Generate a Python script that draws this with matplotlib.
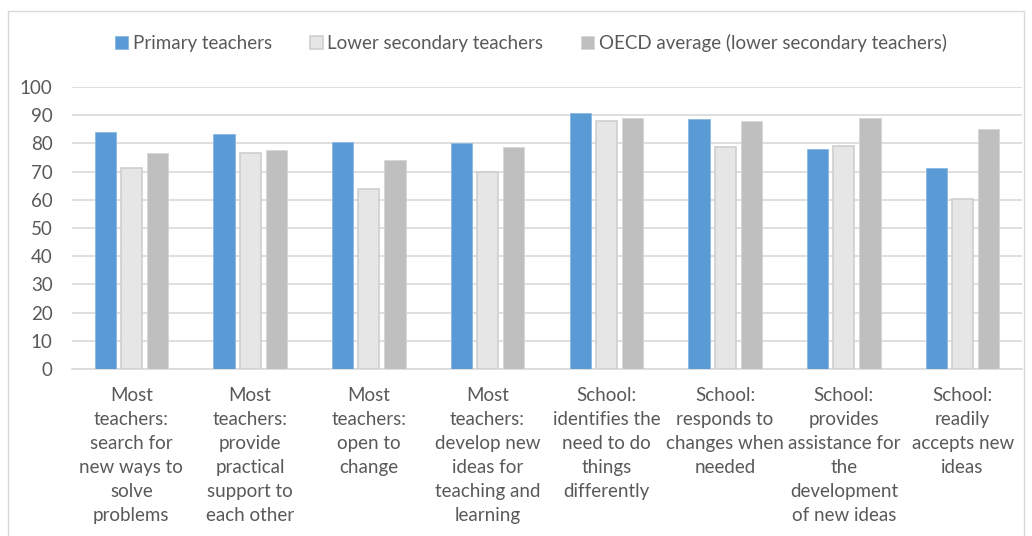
import matplotlib.pyplot as plt
import matplotlib.patches as mpatches
import numpy as np

plt.rcParams['font.family'] = ['Lato', 'DejaVu Sans']

categories = [
    "Most\nteachers:\nsearch for\nnew ways to\nsolve\nproblems",
    "Most\nteachers:\nprovide\npractical\nsupport to\neach other",
    "Most\nteachers:\nopen to\nchange",
    "Most\nteachers:\ndevelop new\nideas for\nteaching and\nlearning",
    "School:\nidentifies the\nneed to do\nthings\ndifferently",
    "School:\nresponds to\nchanges when\nneeded",
    "School:\nprovides\nassistance for\nthe\ndevelopment\nof new ideas",
    "School:\nreadily\naccepts new\nideas",
]
primary = [83.9, 83.5, 80.5, 80.1, 90.8, 88.7, 78.0, 71.2]
lower_secondary = [71.3, 76.7, 63.8, 69.9, 88.0, 78.7, 79.0, 60.4]
oecd_average = [76.7, 77.8, 74.0, 78.9, 89.1, 87.8, 88.9, 85.2]
series_labels = ["Primary teachers", "Lower secondary teachers",
                 "OECD average (lower secondary teachers)"]
yticks = [0, 10, 20, 30, 40, 50, 60, 70, 80, 90, 100]

text_color = '#595959'
grid_color = '#d9d9d9'

fig = plt.figure(figsize=(10.32, 5.36), dpi=100)
ax = fig.add_axes([72 / 1032, 1 - 369 / 536, 950 / 1032, 282 / 536])

# outer chart frame
fig.patches.append(mpatches.Rectangle((8 / 1032, -0.01), 1016 / 1032, 1 - 11 / 536 + 0.01,
                                      transform=fig.transFigure, fill=False,
                                      edgecolor=grid_color, linewidth=1))

x = np.arange(len(categories))
width = 0.177
step = 0.22

ax.bar(x - step, primary, width, color='#5b9bd5', edgecolor='#8ab8e3',
       linewidth=0.6, label=series_labels[0], zorder=3)
ax.bar(x, lower_secondary, width, color='#e6e6e6', edgecolor='#cfcfcf',
       linewidth=1.2, label=series_labels[1], zorder=3)
ax.bar(x + step, oecd_average, width, color='#bfbfbf', edgecolor='#d6d6d6',
       linewidth=0.6, label=series_labels[2], zorder=3)

ax.set_xlim(-0.5, len(categories) - 0.5)
ax.set_ylim(0, 100)
ax.set_yticks(yticks)
ax.yaxis.grid(True, color=grid_color, linewidth=1.2, zorder=0)
ax.set_axisbelow(True)

for side in ['top', 'right', 'left']:
    ax.spines[side].set_visible(False)
ax.spines['bottom'].set_color(grid_color)
ax.spines['bottom'].set_linewidth(1.2)

ax.set_xticks(x)
ax.set_xticklabels(categories, fontsize=13.5, color=text_color, linespacing=1.5)
ax.tick_params(axis='x', length=0, pad=13)
ax.tick_params(axis='y', length=0, pad=14, labelsize=13.5, labelcolor=text_color)

leg = fig.legend(loc='center', bbox_to_anchor=(531 / 1032, 1 - 43 / 536), ncol=3,
                 frameon=False, fontsize=13.5, handlelength=0.7, handleheight=0.7,
                 handletextpad=0.25, columnspacing=2.0)
for t in leg.get_texts():
    t.set_color(text_color)

fig.savefig('out.png', dpi=100)
